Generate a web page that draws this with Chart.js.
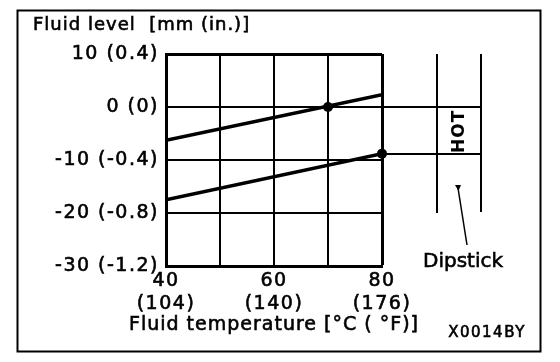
<!DOCTYPE html>
<html><head><meta charset="utf-8">
<script src="https://cdn.jsdelivr.net/npm/chart.js@4/dist/chart.umd.min.js"></script>
<style>html,body{margin:0;padding:0;background:#fff;overflow:hidden}</style>
</head><body>
<canvas id="c" width="560" height="362"></canvas>
<script>
// ---- data ----
const tempC = [40, 50, 60, 70, 80];
const tempF = ['(104)', '', '(140)', '', '(176)'];
const levelTicks = [10, 0, -10, -20, -30];
const levelTickLabels = ['10 (0.4)', '0 (0)', '-10 (-0.4)', '-20 (-0.8)', '-30 (-1.2)'];
const upperX = [40, 80];
const upperY = [-6.3, 2.3];
const lowerX = [40, 80];
const lowerY = [-17.5, -8.8];
const markX = [70, 80];
const markY = [0, -8.8];
const dipstickLevels = [0, -8.8];
const xTitle = 'Fluid temperature [°C ( °F)]';
const yTitle = 'Fluid level  [mm (in.)]';

const FONT = 'DejaVu Sans';
const BOLDEN = 0.6;

const spacingPlugin = {
  id: 'spacing',
  beforeLayout(chart) { chart.ctx.letterSpacing = '1.5px'; },
  beforeDraw(chart) { chart.ctx.letterSpacing = '1.5px'; }
};

function txt(ctx, s, x, y) {
  ctx.fillText(s, x, y);
  ctx.strokeText(s, x, y);
}

const decorPlugin = {
  id: 'decor',
  afterDraw(chart) {
    const ctx = chart.ctx;
    const ca = chart.chartArea;
    const y = chart.scales.y;
    ctx.save();
    ctx.strokeStyle = '#000';
    ctx.fillStyle = '#000';
    // outer frame
    ctx.lineWidth = 2;
    ctx.strokeRect(17.5, 10.5, 523, 341);
    // extension lines to dipstick
    const dipL = 437, dipR = 481;
    dipstickLevels.forEach(v => {
      const py = Math.round(y.getPixelForValue(v));
      ctx.beginPath();
      ctx.moveTo(ca.right, py);
      ctx.lineTo(dipR + 1, py);
      ctx.lineWidth = 2;
      ctx.stroke();
    });
    // dipstick verticals
    ctx.lineWidth = 2;
    ctx.beginPath();
    ctx.moveTo(dipL, ca.top); ctx.lineTo(dipL, 213);
    ctx.moveTo(dipR, ca.top); ctx.lineTo(dipR, 212);
    ctx.stroke();
    // HOT
    const y0 = y.getPixelForValue(dipstickLevels[0]);
    const y1 = y.getPixelForValue(dipstickLevels[1]);
    ctx.save();
    ctx.translate(460, (y0 + y1) / 2 + 1);
    ctx.rotate(-Math.PI / 2);
    ctx.letterSpacing = '1px';
    ctx.font = 'bold 17px ' + FONT;
    ctx.textAlign = 'center';
    ctx.textBaseline = 'middle';
    ctx.fillText('HOT', 0, 0);
    ctx.restore();
    // leader line
    ctx.lineWidth = 1.5;
    ctx.beginPath();
    ctx.moveTo(458, 188); ctx.lineTo(467, 245);
    ctx.stroke();
    ctx.beginPath();
    ctx.moveTo(455, 185); ctx.lineTo(461, 185); ctx.lineTo(458.5, 191); ctx.closePath();
    ctx.fill();
    // texts
    ctx.lineWidth = BOLDEN;
    ctx.letterSpacing = '1px';
    ctx.font = '18px ' + FONT;
    ctx.textAlign = 'left';
    ctx.textBaseline = 'alphabetic';
    txt(ctx, yTitle, 33, 30);
    ctx.font = '19px ' + FONT;
    ctx.textAlign = 'center';
    txt(ctx, xTitle, (ca.left + ca.right) / 2, 330);
    ctx.font = '20px ' + FONT;
    ctx.letterSpacing = '0px';
    txt(ctx, 'Dipstick', 463, 267);
    ctx.font = '15px ' + FONT;
    ctx.letterSpacing = '1.5px';
    txt(ctx, 'X0014BY', 487, 337);
    ctx.restore();
  }
};

new Chart(document.getElementById('c'), {
  type: 'scatter',
  data: {
    datasets: [
      { data: upperX.map((x, i) => ({x, y: upperY[i]})), showLine: true, borderColor: '#000', borderWidth: 3.5, pointRadius: 0 },
      { data: lowerX.map((x, i) => ({x, y: lowerY[i]})), showLine: true, borderColor: '#000', borderWidth: 3.5, pointRadius: 0 },
      { data: markX.map((x, i) => ({x, y: markY[i]})), showLine: false, backgroundColor: '#000', borderColor: '#000', pointRadius: 5, borderWidth: 0, clip: false }
    ]
  },
  options: {
    responsive: false,
    animation: false,
    devicePixelRatio: 1,
    layout: { padding: { left: 0, top: 54, right: 178, bottom: 0 } },
    plugins: { legend: { display: false }, tooltip: { enabled: false } },
    scales: {
      x: {
        type: 'linear', min: 40, max: 80,
        afterBuildTicks: s => { s.ticks = tempC.map(v => ({value: v})); },
        afterFit: s => { s.height = 96; },
        ticks: {
          autoSkip: false, maxRotation: 0, color: '#000', padding: 4,
          textStrokeColor: '#000', textStrokeWidth: BOLDEN,
          font: { family: FONT, size: 19, lineHeight: 1.2 },
          callback: v => { const i = tempC.indexOf(v); return tempF[i] ? [String(v), tempF[i]] : ''; }
        },
        grid: { color: '#000', lineWidth: c => (c.tick && c.tick.value === 80) ? 3 : 2, drawTicks: false },
        border: { color: '#000', width: 3 }
      },
      y: {
        type: 'linear', min: -30, max: 10,
        afterBuildTicks: s => { s.ticks = levelTicks.map(v => ({value: v})); },
        afterFit: s => { s.width = 166; },
        ticks: {
          color: '#000', padding: 7,
          textStrokeColor: '#000', textStrokeWidth: BOLDEN,
          font: { family: FONT, size: 19 },
          callback: v => levelTickLabels[levelTicks.indexOf(v)]
        },
        grid: { color: '#000', lineWidth: c => (c.tick && c.tick.value === 10) ? 3 : 2, drawTicks: false },
        border: { color: '#000', width: 3 }
      }
    }
  },
  plugins: [spacingPlugin, decorPlugin]
});
</script>
</body></html>
